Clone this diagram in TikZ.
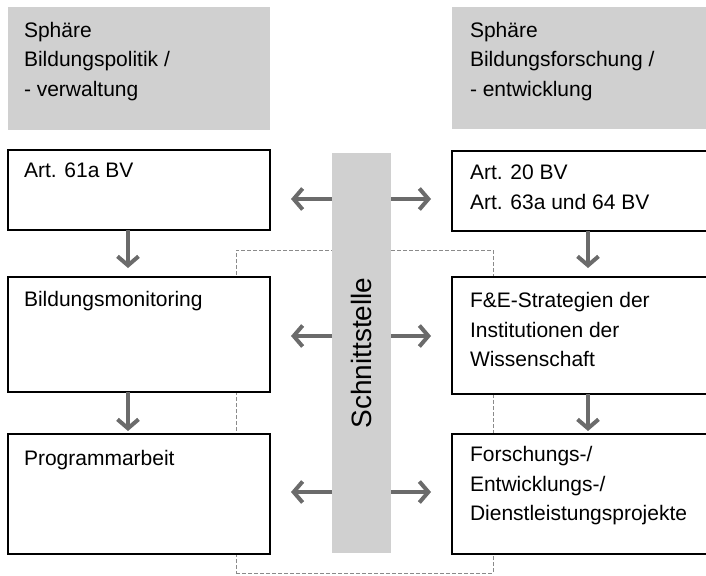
\documentclass[tikz,border=0pt]{standalone}
\usepackage{fontspec}
\setmainfont{Liberation Sans}
\usetikzlibrary{arrows.meta}
\definecolor{hdrgray}{HTML}{D0D0D0}
\definecolor{arrgray}{HTML}{6B6B6B}
\definecolor{dashgray}{HTML}{8A8A8A}
\begin{document}
\begin{tikzpicture}[x=1pt,y=-1pt,
  hbox/.style={fill=hdrgray, draw=none, anchor=north west, inner sep=0pt, outer sep=0pt},
  wbox/.style={draw=black, line width=1.5pt, fill=white, anchor=north west, inner sep=0pt, outer sep=0pt},
  grpbox/.style={draw=dashgray, line width=1pt, dash pattern=on 4pt off 2pt, anchor=north west, inner sep=0pt, outer sep=0pt},
  txt/.style={anchor=base west, inner sep=0pt, outer sep=0pt, align=left, font=\fontsize{21}{29.5}\selectfont},
  arr/.style={draw=arrgray, line width=4pt, -{Straight Barb[length=9pt,width=21pt]}}
]
\useasboundingbox (0,0) rectangle (706,575);

% dashed grouping frame (behind)
\node[grpbox, minimum width=257pt, minimum height=323pt] (grp) at (236,250) {};

% headers
\node[hbox, minimum width=262pt, minimum height=123pt] (hl) at (8,7) {};
\node[hbox, minimum width=262pt, minimum height=122pt] (hr) at (452,7) {};

% left boxes
\node[wbox, minimum width=262pt, minimum height=80pt] (a1) at (8,150) {};
\node[wbox, minimum width=262pt, minimum height=115pt] (a2) at (8,277) {};
\node[wbox, minimum width=262pt, minimum height=120pt] (a3) at (8,434) {};

% right boxes
\node[wbox, minimum width=262pt, minimum height=80pt] (b1) at (452,151) {};
\node[wbox, minimum width=262pt, minimum height=117pt] (b2) at (452,277) {};
\node[wbox, minimum width=262pt, minimum height=120pt] (b3) at (452,434) {};

% interface bar
\node[hbox, minimum width=59pt, minimum height=400pt] (bar) at (332,153) {};
\node[rotate=90, inner sep=0pt, font=\fontsize{28}{30}\selectfont] (lbl) at (bar.center) {Schnittstelle};

% texts (anchored at the baseline of the last line)
\node[txt] (th1) at (24,96.5) {Sphäre\\Bildungspolitik /\\- verwaltung};
\node[txt] (th2) at (470,96.5) {Sphäre\\Bildungsforschung /\\- entwicklung};
\node[txt] (ta1) at (24,177.5) {Art. 61a BV};
\node[txt] (tb1) at (470,209) {Art. 20 BV\\Art. 63a und 64 BV};
\node[txt] (ta2) at (24,306.5) {Bildungsmonitoring};
\node[txt] (tb2) at (470,366.5) {F\&E-Strategien der\\Institutionen der\\Wissenschaft};
\node[txt] (ta3) at (24,465) {Programmarbeit};
\node[txt] (tb3) at (470,520.5) {Forschungs-/\\Entwicklungs-/\\Dienstleistungsprojekte};

% horizontal arrows from the interface
\draw[arr, shorten >=21pt] (bar.west |- 0,199) -- (a1.east |- 0,199);
\draw[arr, shorten >=21pt] (bar.east |- 0,199) -- (b1.west |- 0,199);
\draw[arr, shorten >=21pt] (bar.west |- 0,336) -- (a2.east |- 0,336);
\draw[arr, shorten >=21pt] (bar.east |- 0,336) -- (b2.west |- 0,336);
\draw[arr, shorten >=21pt] (bar.west |- 0,492) -- (a3.east |- 0,492);
\draw[arr, shorten >=21pt] (bar.east |- 0,492) -- (b3.west |- 0,492);

% vertical arrows
\draw[arr, shorten >=9pt] (128,0 |- a1.south) -- (128,0 |- a2.north);
\draw[arr, shorten >=3pt] (128,0 |- a2.south) -- (128,0 |- a3.north);
\draw[arr, shorten >=9pt] (588,0 |- b1.south) -- (588,0 |- b2.north);
\draw[arr, shorten >=3pt] (588,0 |- b2.south) -- (588,0 |- b3.north);
\end{tikzpicture}
\end{document}
